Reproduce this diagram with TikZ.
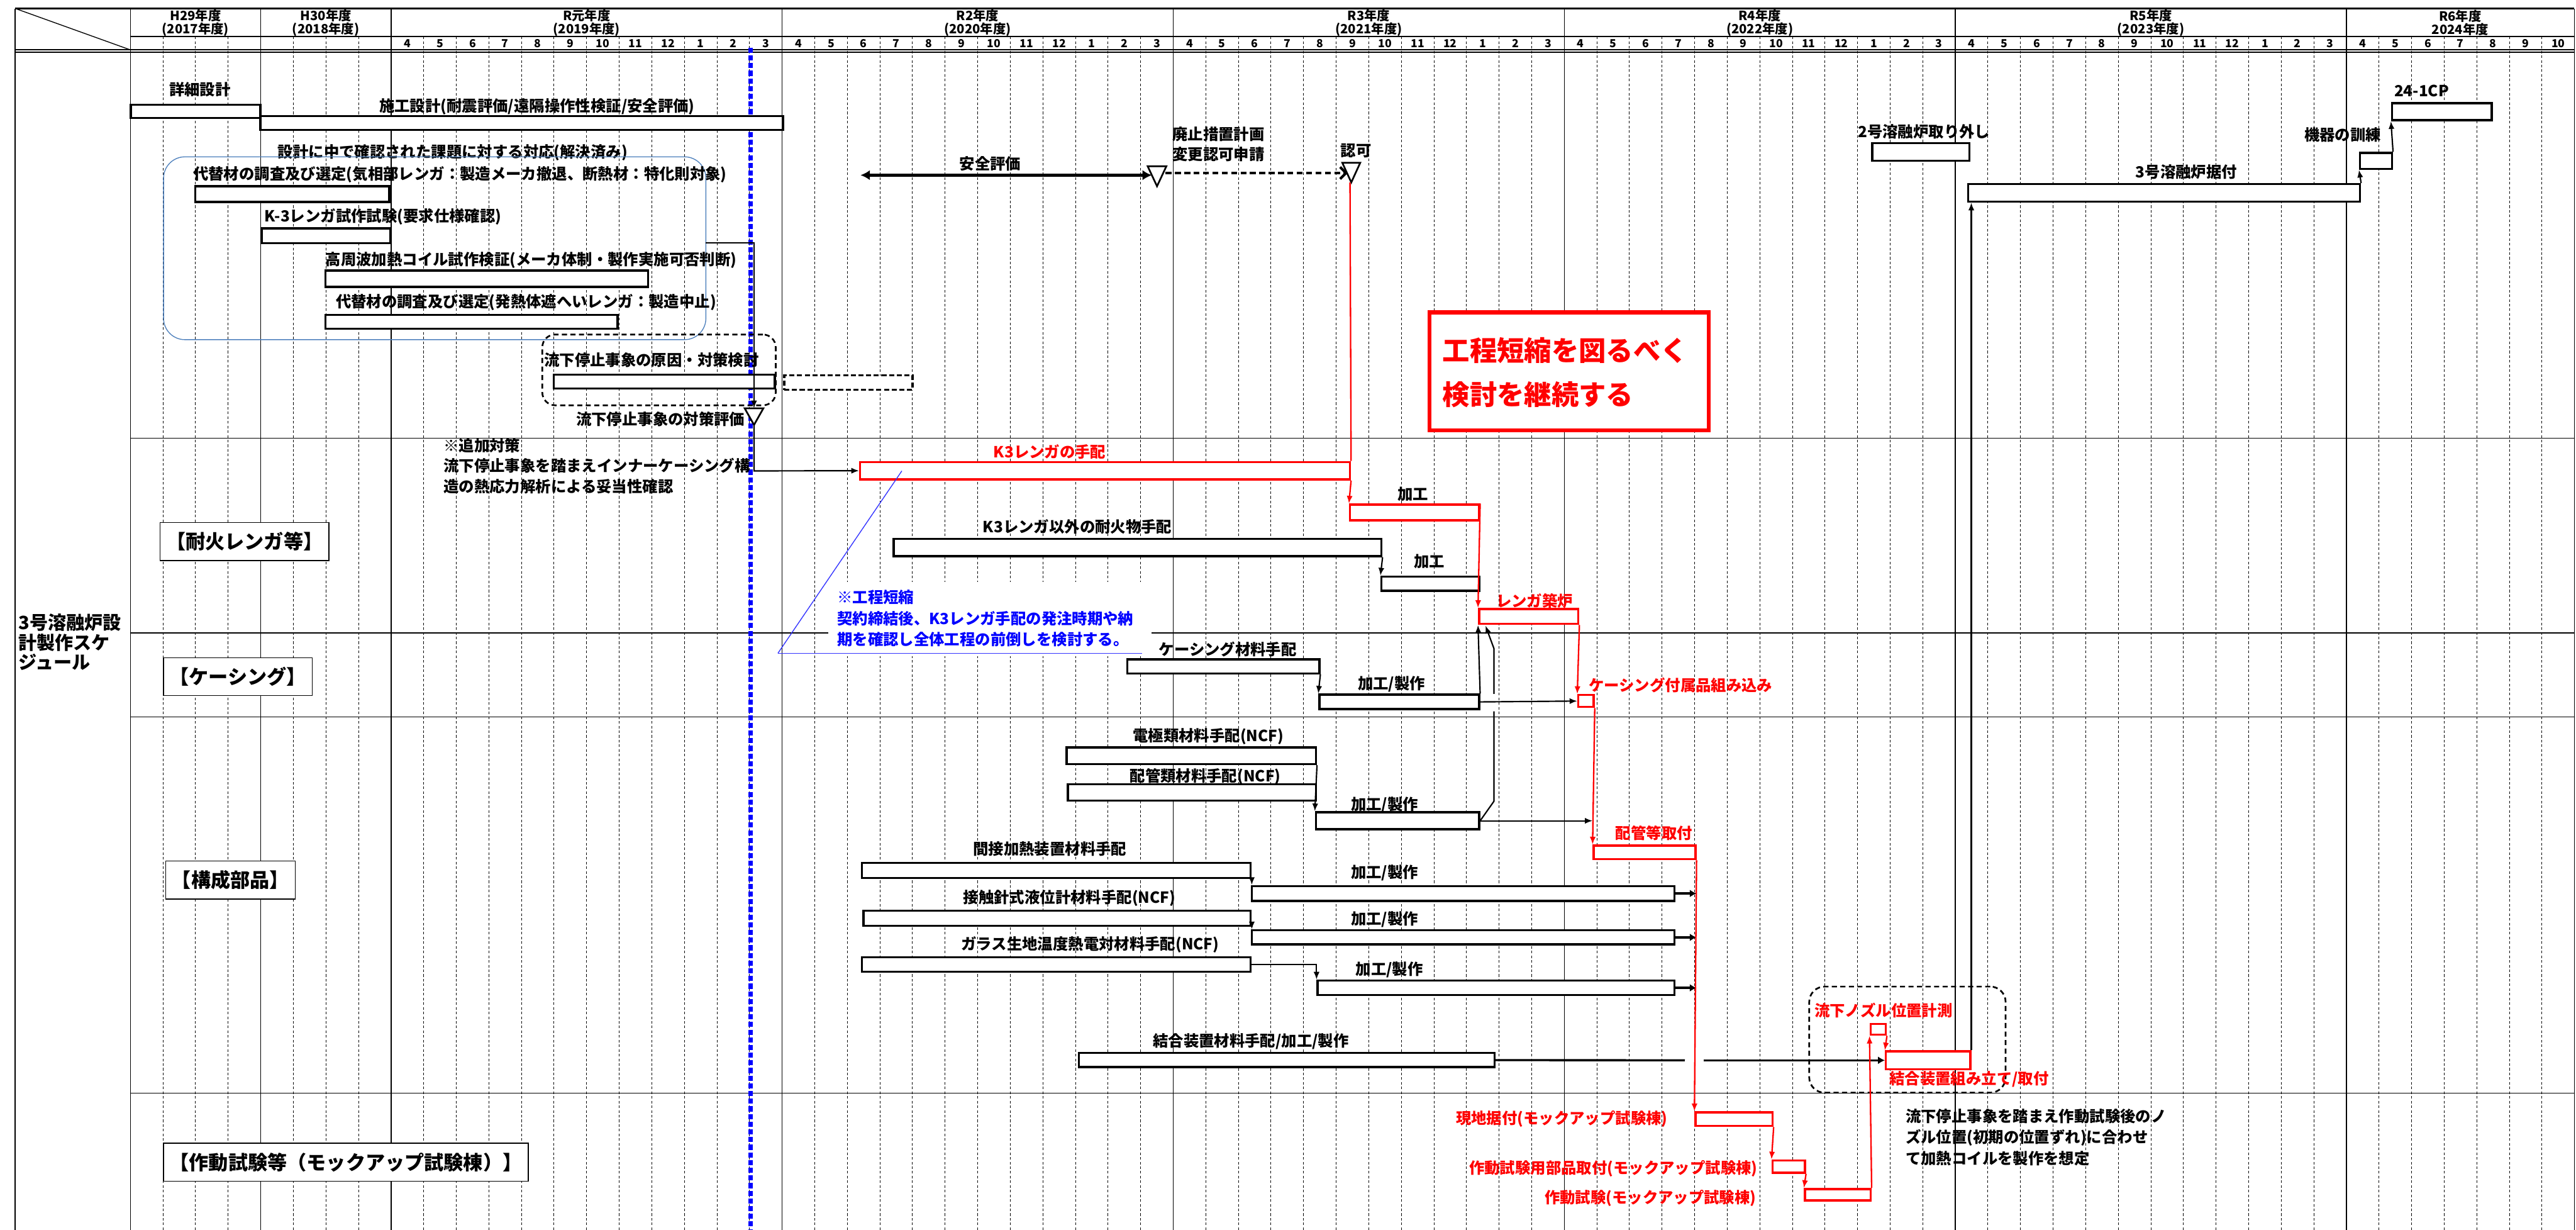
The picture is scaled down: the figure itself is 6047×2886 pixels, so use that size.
\documentclass[tikz,border=0pt]{standalone}
\usepackage{fontspec}
\newfontfamily\jp{Noto Sans CJK JP}
\usetikzlibrary{arrows.meta,fit}
\definecolor{cblue}{RGB}{51,51,255}
\definecolor{sblue}{RGB}{79,129,189}
\newcommand\myjf[1]{\jp\bfseries\fontsize{#1}{#1}\selectfont}
\newcommand\mytri[5]{\draw[line width=2pt,fill=white,line join=miter] (#2-#5,#3) -- (#2+#5,#3) -- (#2,#4) -- cycle; \coordinate (#1) at (#2,#4);}
\begin{document}
\begin{tikzpicture}[x=0.5pt,y=-0.5pt,
  bar/.style={draw=black,line width=2.5pt,fill=white,inner sep=0pt},
  rbar/.style={draw=red,line width=2.5pt,fill=white,inner sep=0pt},
  dbar/.style={draw=black,line width=2.5pt,fill=white,inner sep=0pt,dash pattern=on 6pt off 3pt},
  lb/.style={font=\myjf{18},inner sep=0pt,anchor=west},
  rlb/.style={lb,text=red},
  blb/.style={lb,text=blue},
  yr/.style={font=\jp\bfseries\fontsize{15}{15.5}\selectfont,align=center,inner sep=0pt},
  mon/.style={font=\jp\bfseries\fontsize{13}{13}\selectfont,inner sep=0pt},
  sec/.style={draw=black,line width=1pt,fill=white,font=\myjf{23},inner xsep=7pt,inner ysep=0pt,minimum height=44.5pt,anchor=west},
  gridl/.style={line width=0.7pt,dash pattern=on 3pt off 2.5pt},
  conn/.style={draw=black,line width=1.6pt,-{Latex[length=9pt,width=7pt]}},
  rconn/.style={draw=red,line width=1.7pt,-{Latex[length=9pt,width=7pt]}},
  tconn/.style={draw=black,line width=2.5pt,-{Latex[length=8pt,width=9pt]}}]
\useasboundingbox (0,0) rectangle (6047,2886);
\fill[white] (0,0) rectangle (6047,2886);
% ---------- grid ----------
\foreach \c in {1,...,74} \draw[gridl] ({306+76.5*\c},86) -- ({306+76.5*\c},2886);
\foreach \c in {0,4,8,20,32,44,56,68} \draw[line width=1pt] ({306+76.5*\c},20) -- ({306+76.5*\c},2886);
\draw[line width=1.5pt] (36,20) -- (36,2886);
\draw[line width=1pt] (6043,20) -- (6043,2886);
\draw[line width=2.5pt] (36,20) -- (6043,20);
\draw[line width=1.3pt] (306,86) -- (6043,86);
\draw[line width=1.3pt] (36,117) -- (6043,117);
\draw[line width=1.3pt] (36,123) -- (6043,123);
\draw[line width=1pt] (36,20) -- (306,117);
% year labels
\node[yr] (y29) at (459,53) {H29年度\\(2017年度)};
\node[yr] (y30) at (765,53) {H30年度\\(2018年度)};
\node[yr] (y1) at (1377,53) {R元年度\\(2019年度)};
\node[yr] (y2) at (2295,53) {R2年度\\(2020年度)};
\node[yr] (y3) at (3213,53) {R3年度\\(2021年度)};
\node[yr] (y4) at (4131,53) {R4年度\\(2022年度)};
\node[yr] (y5) at (5049,53) {R5年度\\(2023年度)};
\node[yr] (y6) at (5775,53) {R6年度\\2024年度};
\foreach \i in {0,...,66} {
  \pgfmathtruncatemacro\mo{mod(\i+3,12)+1}
  \node[mon] (m\i) at ({306+76.5*(8+\i)+38.25},102) {\mo};
}
% section lines
\draw[line width=1pt] (306,1028) -- (6043,1028);
\draw[line width=1pt] (306,1485) -- (6043,1485);
\draw[line width=1pt] (306,1682) -- (6043,1682);
\draw[line width=1pt] (306,2565) -- (6043,2565);
% white boxes
\fill[white] (1944,1366) rectangle (2703,1540);
\node[draw=red,line width=4.5pt,fill=white,inner sep=0pt,fit={(3356,733)(4011,1010)}] (goal) {};
\node[font=\myjf{32},text=red,inner sep=0pt,anchor=west] (goal1) at (3386,822) {工程短縮を図るべく};
\node[font=\myjf{32},text=red,inner sep=0pt,anchor=west] (goal2) at (3386,926) {検討を継続する};
% blue dotted milestone line
\draw[blue,line width=5pt,dash pattern=on 6pt off 3pt] (1762,112) -- (1762,2886);
% left column
\node[font=\myjf{21.5},inner sep=0pt,anchor=west] (t1) at (43,1461) {3号溶融炉設};
\node[font=\myjf{21.5},inner sep=0pt,anchor=west] (t2) at (43,1508) {計製作スケ};
\node[font=\myjf{21.5},inner sep=0pt,anchor=west] (t3) at (43,1553) {ジュール};
% section labels
\node[sec] (s1) at (375,1271) {【耐火レンガ等】};
\node[sec] (s2) at (383,1588) {【ケーシング】};
\node[sec] (s3) at (388,2065) {【構成部品】};
\node[sec] (s4) at (383,2727) {【作動試験等（モックアップ試験棟）】};
% ---------- top area ----------
\node[bar,fit={(307,246)(611,277)}] (detail) {};
\node[lb] (ldetail) at (397,210) {詳細設計};
\node[bar,fit={(611,272)(1838,305)}] (sekou) {};
\node[lb] (lsekou) at (890,250) {施工設計(耐震評価/遠隔操作性検証/安全評価)};
\node[lb] (lkadai) at (652,358) {設計に中で確認された課題に対する対応(解決済み)};
\node[draw=sblue,line width=1pt,rounded corners=25pt,inner sep=0pt,fit={(384,368)(1657,797)}] (alt) {};
\node[lb] (lalt1) at (453,410) {代替材の調査及び選定(気相部レンガ：製造メーカ撤退、断熱材：特化則対象)};
\node[bar,fit={(458,437)(914,474)}] (alt1) {};
\node[lb] (lk3t) at (621,509) {K-3レンガ試作試験(要求仕様確認)};
\node[bar,fit={(614,536)(917,571)}] (k3t) {};
\node[lb] (lcoil) at (764,610) {高周波加熱コイル試作検証(メーカ体制・製作実施可否判断)};
\node[bar,fit={(764,635)(1521,673)}] (coil) {};
\node[lb] (lalt2) at (788,709) {代替材の調査及び選定(発熱体遮へいレンガ：製造中止)};
\node[bar,fit={(764,739)(1450,771)}] (alt2) {};
\node[draw=black,line width=2pt,dash pattern=on 6pt off 4pt,rounded corners=15pt,inner sep=0pt,fit={(1273,785)(1821,951)}] (cbx) {};
\node[lb] (lgen) at (1277,845) {流下停止事象の原因・対策検討};
\node[bar,fit={(1300,879)(1819,912)}] (gen) {};
\node[dbar,fit={(1841,881)(2142,915)}] (genx) {};
\node[lb] (ltsk) at (1352,984) {流下停止事象の対策評価};
\coordinate (j1) at (1657,570);
\coordinate (j2) at (1770,570);
\draw[conn] (j1) -- (j2) -- (1770,958);
\mytri{trC}{1770}{958}{997}{22}
\node[lb] (ladd1) at (1041,1046) {※追加対策};
\node[lb] (ladd2) at (1041,1093) {流下停止事象を踏まえインナーケーシング構};
\node[lb] (ladd3) at (1041,1142) {造の熱応力解析による妥当性確認};
% safety / approval
\node[lb] (lsafe) at (2252,384) {安全評価};
\coordinate (sa1) at (2020,411);
\coordinate (sa2) at (2704,411);
\draw[line width=4pt,{Latex[length=11pt,width=12pt]}-{Latex[length=11pt,width=12pt]}] (sa1) -- (sa2);
\mytri{trA}{2716}{390}{437}{22}
\coordinate (da1) at (2736,406);
\coordinate (da2) at (3164,406);
\draw[line width=3pt,dash pattern=on 7pt off 4pt,-{Straight Barb[length=7pt,width=14pt,line width=3pt]}] (da1) -- (da2);
\mytri{trB}{3172}{382}{428}{21}
\node[lb] (lhai1) at (2752,315) {廃止措置計画};
\node[lb] (lhai2) at (2752,362) {変更認可申請};
\node[lb] (lnin) at (3147,353) {認可};
% ---------- refractory ----------
\node[rbar,fit={(2019,1084)(3169,1125)}] (k3) {};
\node[rlb] (lk3) at (2332,1060) {K3レンガの手配};
\draw[conn] (trC) -- (1770,1105) -- (k3.west);
\draw[red,line width=1.7pt] (3169,428) -- (k3.north east);
\draw[cblue,line width=1pt] (1826,1533) -- (2117,1105);
\draw[cblue,line width=1pt] (1826,1533) -- (2681,1533);
\node[blb] (lc1) at (1965,1402) {※工程短縮};
\node[blb] (lc2) at (1965,1451) {契約締結後、K3レンガ手配の発注時期や納};
\node[blb] (lc3) at (1965,1500) {期を確認し全体工程の前倒しを検討する。};
\node[rbar,fit={(3169,1184)(3472,1221)}] (kakoR) {};
\node[lb] (lkako1) at (3280,1159) {加工};
\draw[rconn] (k3.south east) -- (kakoR.north west);
\node[bar,fit={(2098,1264)(3243,1305)}] (k3o) {};
\node[lb] (lk3o) at (2307,1236) {K3レンガ以外の耐火物手配};
\node[bar,fit={(3243,1353)(3472,1386)}] (kako2) {};
\node[lb] (lkako2) at (3319,1318) {加工};
\draw[conn] (k3o.south east) -- (kako2.north west);
\node[rbar,fit={(3472,1429)(3705,1464)}] (renga) {};
\node[rlb] (lrenga) at (3512,1410) {レンガ築炉};
\draw[rconn] (kakoR.north east) -- (renga.north west);
% ---------- casing ----------
\node[bar,fit={(2646,1547)(3097,1580)}] (cas) {};
\node[lb] (lcas) at (2720,1524) {ケーシング材料手配};
\node[bar,fit={(3097,1630)(3472,1664)}] (ckako) {};
\node[lb] (lckako) at (3187,1605) {加工/製作};
\draw[conn] (cas.south east) -- (ckako.north west);
\draw[conn] (ckako.north east) -- (renga.south west);
\node[rbar,fit={(3705,1631)(3741,1659)}] (cbox) {};
\node[rlb] (lcbox) at (3729,1607) {ケーシング付属品組み込み};
\draw[conn] (ckako.east) -- (cbox.west);
\draw[rconn] (renga.south east) -- (cbox.north west);
% ---------- components ----------
\node[bar,fit={(2504,1754)(3089,1793)}] (den) {};
\node[lb] (lden) at (2659,1728) {電極類材料手配(NCF)};
\node[bar,fit={(2507,1840)(3089,1879)}] (pipe) {};
\node[lb] (lpipe) at (2652,1822) {配管類材料手配(NCF)};
\node[bar,fit={(3089,1906)(3472,1946)}] (ekako) {};
\node[lb] (lekako) at (3171,1889) {加工/製作};
\draw[conn] (den.south east) -- (ekako.north west);
\draw[line width=1.6pt] (ekako.east) -- (3507,1880) -- (3507,1669);
\draw[conn] (3507,1628) -- (3507,1522) -- (3487,1468);
\node[rbar,fit={(3741,1984)(3980,2016)}] (haikan) {};
\node[rlb] (lhaikan) at (3792,1955) {配管等取付};
\draw[rconn] (cbox.south east) -- (haikan.north west);
\draw[conn] (ekako.east) -- (ekako.east -| haikan.north west);
\node[bar,fit={(2023,2025)(2936,2060)}] (iA) {};
\node[lb] (liA) at (2284,1992) {間接加熱装置材料手配};
\node[bar,fit={(2939,2079)(3931,2114)}] (kA) {};
\node[lb] (lkA) at (3171,2048) {加工/製作};
\draw[conn] (iA.south east) -- (iA.south east |- kA.north);
\node[bar,fit={(2027,2137)(2936,2172)}] (iB) {};
\node[lb] (liB) at (2261,2107) {接触針式液位計材料手配(NCF)};
\node[bar,fit={(2939,2183)(3931,2216)}] (kB) {};
\node[lb] (lkB) at (3171,2158) {加工/製作};
\draw[conn] (iB.south east) -- (iB.south east |- kB.north);
\node[bar,fit={(2023,2246)(2936,2280)}] (iC) {};
\node[lb] (liC) at (2256,2216) {ガラス生地温度熱電対材料手配(NCF)};
\node[bar,fit={(3093,2301)(3931,2335)}] (kC) {};
\node[lb] (lkC) at (3182,2275) {加工/製作};
\draw[conn] (iC.east) -| (kC.north west);
\draw[tconn] (kA.east) -- (kA.east -| haikan.south east);
\draw[tconn] (kB.east) -- (kB.east -| haikan.south east);
\draw[tconn] (kC.east) -- (kC.east -| haikan.south east);
% coupling
\node[bar,fit={(2533,2471)(3508,2504)}] (ket) {};
\node[lb] (lket) at (2706,2444) {結合装置材料手配/加工/製作};
\node[draw=black,line width=2pt,dash pattern=on 6pt off 4pt,rounded corners=18pt,inner sep=0pt,fit={(4247,2315)(4708,2564)}] (nbx) {};
\node[rbar,fit={(4427,2467)(4625,2509)}] (ketR) {};
\node[rlb] (lketR) at (4435,2533) {結合装置組み立て/取付};
\node[rbar,fit={(4391,2403)(4427,2428)}] (noz) {};
\node[rlb] (lnoz) at (4259,2371) {流下ノズル位置計測};
\draw[rconn] (noz.south east) -- (ketR.north west);
\draw[line width=2.5pt] (ket.east) -- (3955,2488);
\draw[tconn] (4000,2488) -- (ketR.west);
% test
\node[rbar,fit={(3980,2610)(4161,2642)}] (genchi) {};
\node[rlb,anchor=east] (lgenchi) at (3915,2625) {現地据付(モックアップ試験棟)};
\node[rbar,fit={(4161,2723)(4237,2752)}] (buhin) {};
\node[rlb,anchor=east] (lbuhin) at (4126,2742) {作動試験用部品取付(モックアップ試験棟)};
\node[rbar,fit={(4237,2790)(4391,2817)}] (sado) {};
\node[rlb,anchor=east] (lsado) at (4123,2812) {作動試験(モックアップ試験棟)};
\draw[rconn] (haikan.south east) -- (genchi.north west);
\draw[rconn] (genchi.south east) -- (buhin.north west);
\draw[rconn] (buhin.south east) -- (sado.north west);
\draw[rconn] (sado.north east) -- (noz.south west);
\node[lb] (ln1) at (4473,2619) {流下停止事象を踏まえ作動試験後のノ};
\node[lb] (ln2) at (4473,2670) {ズル位置(初期の位置ずれ)に合わせ};
\node[lb] (ln3) at (4473,2719) {て加熱コイルを製作を想定};
% ---------- right top ----------
\node[bar,fit={(4395,336)(4623,377)}] (rm2) {};
\node[lb] (lrm2) at (4361,309) {2号溶融炉取り外し};
\node[bar,fit={(4620,432)(5540,473)}] (inst) {};
\node[lb] (linst) at (5013,404) {3号溶融炉据付};
\node[bar,fit={(5540,359)(5615,396)}] (kun) {};
\node[lb] (lkun) at (5409,317) {機器の訓練};
\node[bar,fit={(5615,242)(5849,282)}] (cp) {};
\node[lb] (lcp) at (5620,213) {24-1CP};
\draw[conn] (ketR.north east) -- (ketR.north east |- inst.south);
\draw[conn] (inst.north east) -- (kun.south west);
\draw[conn] (kun.north east) -- (cp.south west);
\end{tikzpicture}
\end{document}
